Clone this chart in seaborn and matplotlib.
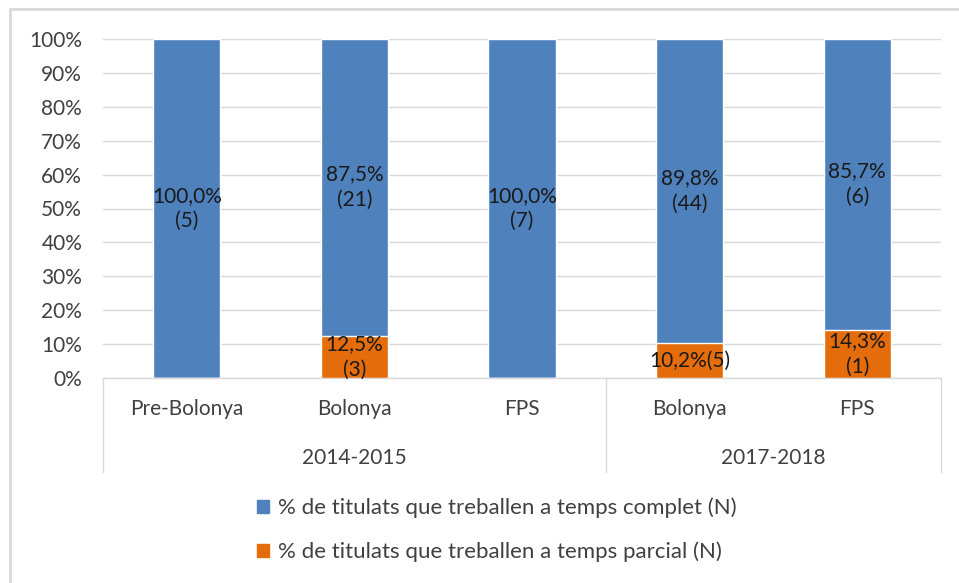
import matplotlib
matplotlib.use("Agg")
import matplotlib.pyplot as plt
import seaborn as sns
import pandas as pd
from matplotlib.patches import Rectangle
from matplotlib.lines import Line2D
from matplotlib.transforms import blended_transform_factory

# Data
groups = ["2014-2015", "2014-2015", "2014-2015", "2017-2018", "2017-2018"]
programs = ["Pre-Bolonya", "Bolonya", "FPS", "Bolonya", "FPS"]
full_pct = [100.0, 87.5, 100.0, 89.8, 85.7]
full_n = [5, 21, 7, 44, 6]
part_pct = [0.0, 12.5, 0.0, 10.2, 14.3]
part_n = [0, 3, 0, 5, 1]
group_names = ["2014-2015", "2017-2018"]
series_names = ["% de titulats que treballen a temps complet (N)",
                "% de titulats que treballen a temps parcial (N)"]
yticks = [0, 10, 20, 30, 40, 50, 60, 70, 80, 90, 100]

BLUE = "#4f81bd"
ORANGE = "#e46c0a"
GRID = "#d9d9d9"
TXT = "#404040"
FS = 15

sns.set_theme(style="white")
plt.rcParams["font.family"] = ["Lato", "DejaVu Sans"]

keys = [f"{g}|{p}" for g, p in zip(groups, programs)]
df = pd.DataFrame({
    "key": keys,
    "total": [f + p for f, p in zip(full_pct, part_pct)],
    "part": part_pct,
})

fig = plt.figure(figsize=(9.59, 5.83), dpi=100)
ax = fig.add_axes([103/959, 1-378/583, (941-103)/959, (378-39)/583])

sns.barplot(data=df, x="key", y="total", order=keys, color=BLUE, width=0.4,
            saturation=1, ax=ax, zorder=2)
sns.barplot(data=df, x="key", y="part", order=keys, color=ORANGE, width=0.4,
            saturation=1, ax=ax, zorder=3)

ax.set_ylim(0, 100)
ax.set_xlim(-0.5, len(keys) - 0.5)
ax.set_yticks(yticks)
ax.set_yticklabels([f"{t}%" for t in yticks], fontsize=FS, color=TXT)
ax.tick_params(axis="y", length=0, pad=15)
ax.tick_params(axis="x", length=0)
ax.set_xticks(range(len(keys)))
ax.set_xticklabels([])
ax.set_xlabel("")
ax.set_ylabel("")
ax.yaxis.grid(True, color=GRID, linewidth=1, zorder=0)
ax.set_axisbelow(True)
for s in ["top", "right", "left"]:
    ax.spines[s].set_visible(False)
ax.spines["bottom"].set_color(GRID)
ax.spines["bottom"].set_linewidth(1)

# Bar labels
for i in range(len(keys)):
    f, fn, p, pn = full_pct[i], full_n[i], part_pct[i], part_n[i]
    ytop = p + f / 2
    ax.text(i, ytop, f"{f:.1f}%".replace(".", ",") + f"\n({fn})", ha="center",
            va="center", fontsize=FS, color="#1a1a1a", linespacing=1.35, zorder=5)
    if p > 0:
        if p < 12:
            lbl = f"{p:.1f}%".replace(".", ",") + f"({pn})"
        else:
            lbl = f"{p:.1f}%".replace(".", ",") + f"\n({pn})"
        ax.text(i, p / 2, lbl, ha="center", va="center", fontsize=FS,
                color="#1a1a1a", linespacing=1.35, zorder=5)

# Multi-level category axis
tr = blended_transform_factory(ax.transData, ax.transAxes)
for i, prog in enumerate(programs):
    ax.text(i, -0.091, prog, transform=tr, ha="center", va="center",
            fontsize=FS, color=TXT, clip_on=False)
bounds = [-0.5]
for i in range(1, len(groups)):
    if groups[i] != groups[i-1]:
        bounds.append(i - 0.5)
bounds.append(len(groups) - 0.5)
for b in bounds:
    ax.add_line(Line2D([b, b], [0, -0.277], transform=tr, color=GRID,
                       linewidth=1, clip_on=False))
for gi, g in enumerate(group_names):
    idx = [i for i, gg in enumerate(groups) if gg == g]
    ax.text((idx[0] + idx[-1]) / 2, -0.236, g, transform=tr, ha="center",
            va="center", fontsize=FS, color=TXT, clip_on=False)

# Legend
handles = [Rectangle((0, 0), 1, 1, color=BLUE), Rectangle((0, 0), 1, 1, color=ORANGE)]
fig.legend(handles, series_names, loc="center", bbox_to_anchor=(497/959, 1-530/583),
           frameon=False, fontsize=16, handlelength=0.55, handleheight=0.55,
           handletextpad=0.4, labelspacing=1.05, labelcolor=TXT)

# Outer border
fig.add_artist(Rectangle((10/959, -0.1), 1.2, 1 - 9/583 + 0.1, transform=fig.transFigure,
                         fill=False, edgecolor=GRID, linewidth=2))

fig.savefig("out.png", dpi=100)
